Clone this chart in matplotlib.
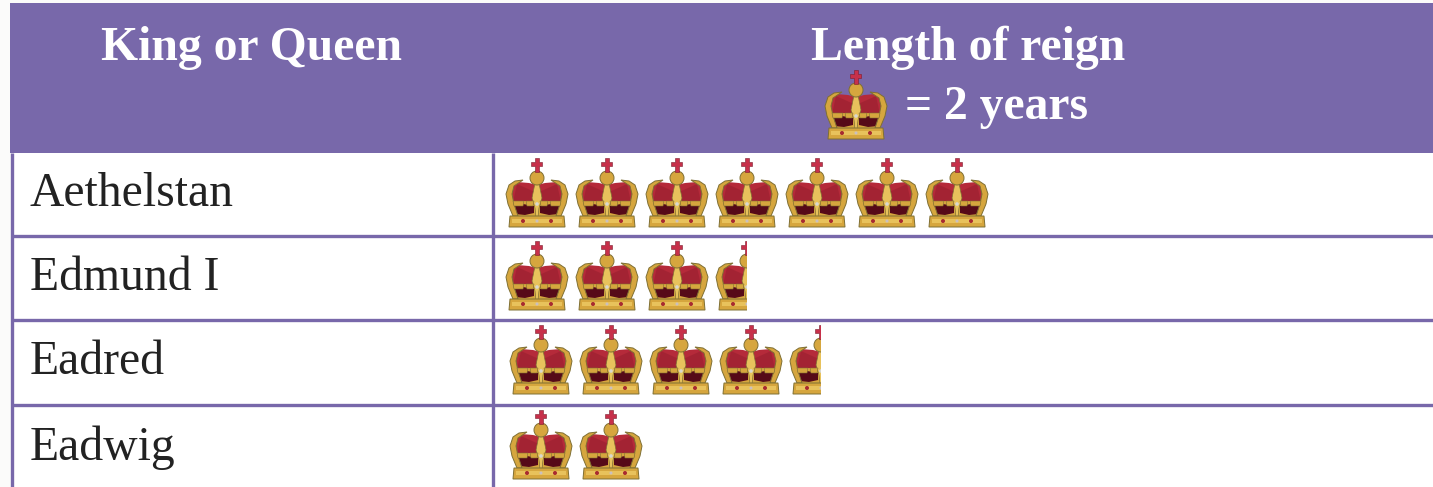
# python

import matplotlib
matplotlib.use('Agg')
import matplotlib.pyplot as plt
from matplotlib.patches import Circle, Polygon, Rectangle

# chart data: one crown stands for 2 years
monarchs = ['Aethelstan', 'Edmund I', 'Eadred', 'Eadwig']
reign_years = [14, 7, 9, 4]
years_per_crown = 2

PURPLE = '#7868aa'
GOLD = '#d6a63e'
LIGHT_GOLD = '#e8c25c'
DARK_GOLD = '#7f6f33'
RED = '#b52a3a'
DARK_RED = '#8f1c2c'
MAROON = '#560a18'

row_edges = [153, 236, 320, 405, 490]
crown_left = [505, 505, 509, 509]
crown_step = 70
crown_w = 64


def draw_crown(ax, x0, y0, fraction=1.0):
    """Draws one crown with its top left corner at x0, y0, cut at fraction."""
    def px(points):
        return [(x0 + u, y0 + v) for u, v in points]

    parts = []
    # velvet
    parts.append(Polygon(px([(2, 36), (5, 27), (12, 24), (24, 25), (32, 27), (40, 25), (52, 24),
                             (59, 27), (62, 36), (60, 46), (4, 46)]),
                         fc=RED, ec='none'))
    parts.append(Polygon(px([(12, 26), (30, 34), (30, 44), (8, 44)]), fc=DARK_RED, ec='none', alpha=0.45))
    parts.append(Polygon(px([(52, 26), (34, 34), (34, 44), (56, 44)]), fc=DARK_RED, ec='none', alpha=0.45))
    # gold frame behind the lining, then the lining
    parts.append(Polygon(px([(6, 43), (58, 43), (56, 59), (8, 59)]), fc=GOLD, ec='none'))
    parts.append(Polygon(px([(8, 48), (18, 46), (29, 48), (29, 55), (20, 57), (10, 56)]), fc=MAROON, ec='none'))
    parts.append(Polygon(px([(56, 48), (46, 46), (35, 48), (35, 55), (44, 57), (54, 56)]), fc=MAROON, ec='none'))
    # outer arches
    parts.append(Polygon(px([(1, 36), (4, 27), (10, 23), (18, 22), (9, 28), (7, 36), (9, 46),
                             (13, 58), (8, 58), (3, 46)]),
                         fc=GOLD, ec=DARK_GOLD, lw=0.7))
    parts.append(Polygon(px([(63, 36), (60, 27), (54, 23), (46, 22), (55, 28), (57, 36), (55, 46),
                             (51, 58), (56, 58), (61, 46)]),
                         fc=GOLD, ec=DARK_GOLD, lw=0.7))
    # centre arch and cross bars
    parts.append(Polygon(px([(30, 25), (34, 25), (37, 40), (34, 50), (33, 59), (31, 59), (30, 50), (27, 40)]),
                         fc=LIGHT_GOLD, ec=DARK_GOLD, lw=0.5))
    for left, right in [(21, 29), (35, 43), (8, 19), (45, 56)]:
        parts.append(Polygon(px([(left, 43), (right, 43), (right - 1, 48), (left + 1, 48)]),
                             fc=GOLD, ec=DARK_GOLD, lw=0.4))
    # orb
    parts.append(Circle((x0 + 32, y0 + 20), 7, fc=GOLD, ec=DARK_GOLD, lw=0.7))
    # cross
    parts.append(Polygon(px([(30, 0), (34, 0), (34, 4), (37.5, 4), (37.5, 8), (34, 8), (34, 14),
                             (30, 14), (30, 8), (26.5, 8), (26.5, 4), (30, 4)]),
                         fc='#c7304a', ec='#7a1c2c', lw=0.4))
    # band
    parts.append(Polygon(px([(5, 58), (59, 58), (60, 69), (4, 69)]), fc=GOLD, ec=DARK_GOLD, lw=0.7))
    parts.append(Polygon(px([(7, 61), (57, 61), (57, 65), (7, 65)]), fc=LIGHT_GOLD, ec='none'))
    parts.append(Circle((x0 + 18, y0 + 63), 2, fc='#a82a30', ec='none'))
    parts.append(Circle((x0 + 46, y0 + 63), 2, fc='#a82a30', ec='none'))
    parts.append(Circle((x0 + 32, y0 + 63), 1.5, fc='#c9bfc0', ec='none'))
    parts.append(Circle((x0 + 32, y0 + 46), 1.8, fc='#d8d8d0', ec='none'))

    clip = Rectangle((x0 - 2, y0 - 2), crown_w * fraction + 2, 74, transform=ax.transData)
    for part in parts:
        ax.add_patch(part)
        part.set_clip_path(clip)


fig = plt.figure(figsize=(14.33, 4.87), dpi=100, facecolor='#fbfbfa')
ax = fig.add_axes([0, 0, 1, 1])
ax.set_xlim(0, 1433)
ax.set_ylim(487, 0)
ax.axis('off')

# table
ax.add_patch(Rectangle((12, 153), 1421, 340, fc='white', ec='none'))
ax.add_patch(Rectangle((10, 3), 1423, 150, fc=PURPLE, ec='none'))
for y in row_edges[1:-1]:
    ax.plot([12, 1433], [y, y], color=PURPLE, lw=2.4, solid_capstyle='butt')
ax.plot([12, 12], [153, 487], color=PURPLE, lw=2.4, solid_capstyle='butt')
ax.plot([493, 493], [153, 487], color=PURPLE, lw=2.4, solid_capstyle='butt')

# header
serif = 'Liberation Serif'
ax.text(252, 48, 'King or Queen', family=serif, weight='bold', color='white',
        fontsize=34.3, ha='center', va='center')
ax.text(968, 48, 'Length of reign', family=serif, weight='bold', color='white',
        fontsize=34.3, ha='center', va='center')
ax.text(905, 107, '= 2 years', family=serif, weight='bold', color='white',
        fontsize=34.3, ha='left', va='center')
draw_crown(ax, 824, 70)

# rows
for i, name in enumerate(monarchs):
    top, bottom = row_edges[i], row_edges[i + 1]
    ax.text(30, (top + bottom) / 2, name, family=serif, color='#222222',
            fontsize=34.3, ha='left', va='center')
    crowns = reign_years[i] / years_per_crown
    whole = int(crowns)
    for c in range(whole):
        draw_crown(ax, crown_left[i] + c * crown_step, top + 5)
    if crowns > whole:
        draw_crown(ax, crown_left[i] + whole * crown_step, top + 5, crowns - whole)

fig.savefig('out.png', dpi=100, facecolor=fig.get_facecolor())
